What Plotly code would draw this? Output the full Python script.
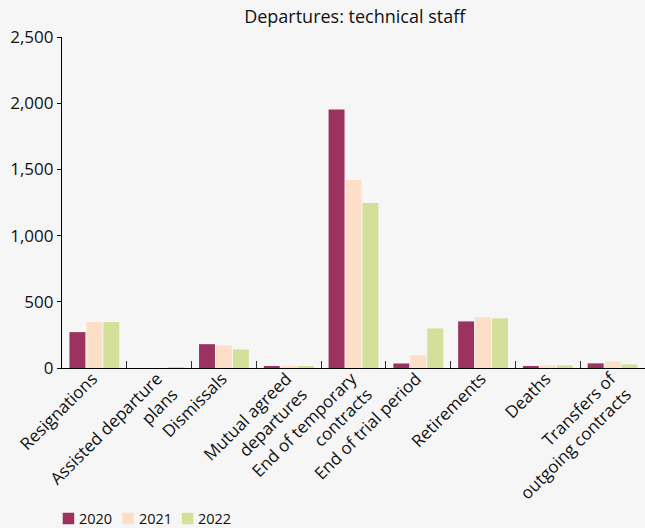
import plotly.graph_objects as go

categories = [
    "Resignations",
    "Assisted departure<br>plans",
    "Dismissals",
    "Mutual agreed<br>departures",
    "End of temporary<br>contracts",
    "End of trial period",
    "Retirements",
    "Deaths",
    "Transfers of<br>outgoing contracts",
]
years = ["2020", "2021", "2022"]
v2020 = [271, 0, 180, 8, 1952, 34, 352, 12, 35]
v2021 = [347, 0, 170, 12, 1420, 95, 383, 20, 50]
v2022 = [347, 5, 140, 12, 1246, 299, 375, 20, 27]
colors = ["#9b3260", "#fddfc7", "#d3e09a"]
y_ticks = [0, 500, 1000, 1500, 2000, 2500]

W, H = 645, 528
ML, MR, MT, MB = 62, 0, 37, 160
PW, PH = W - ML - MR, H - MT - MB

fig = go.Figure()
for name, vals, c in zip(years, [v2020, v2021, v2022], colors):
    fig.add_trace(go.Bar(x=categories, y=vals, name=name, marker_color=c, marker_line_width=0,
                         showlegend=False))

# custom legend (pixel layout converted to paper coordinates)
def px_x(px):
    return (px - ML) / PW

def px_y(py):
    return (H - MB - py) / PH

leg_x0, leg_step, sq, leg_yc = 62.7, 59.6, 11.5, 518.5
for i, (name, c) in enumerate(zip(years, colors)):
    x0 = leg_x0 + i * leg_step
    fig.add_shape(type="rect", xref="paper", yref="paper",
                  x0=px_x(x0), x1=px_x(x0 + sq), y0=px_y(leg_yc + sq / 2), y1=px_y(leg_yc - sq / 2),
                  fillcolor=c, line_width=0)
    fig.add_annotation(xref="paper", yref="paper", x=px_x(x0 + sq + 3), y=px_y(leg_yc),
                       xanchor="left", yanchor="middle", text=name, showarrow=False,
                       font=dict(size=14.5, color="#111111"))

font = "Open Sans, Noto Sans, sans-serif"
bg = "#f6f6f6"
fig.update_layout(
    width=W, height=H,
    paper_bgcolor=bg, plot_bgcolor=bg,
    font=dict(family=font, size=15, color="#111111"),
    title=dict(text="Departures: technical staff", xref="container", x=0.55, xanchor="center",
               yref="container", y=1 - 17 / 528, yanchor="middle",
               font=dict(size=18, color="#111111")),
    margin=dict(l=ML, r=MR, t=MT, b=MB, autoexpand=False),
    barmode="group", bargap=0.215, bargroupgap=0.06,
    showlegend=False,
)
fig.update_xaxes(
    tickangle=-45, showline=True, linecolor="#000000", linewidth=1.3,
    ticks="inside", tickson="boundaries", ticklen=7, tickcolor="#333333", tickwidth=1,
    showgrid=False, zeroline=False, tickfont=dict(size=17), automargin=False,
    ticklabelstandoff=-7, ticklabelshift=-2,
)
fig.update_yaxes(
    range=[0, 2500], tickvals=y_ticks, tickformat=",", showline=True, linecolor="#000000", linewidth=1.3,
    ticks="outside", ticklen=4, tickcolor="#000000", showgrid=False, zeroline=False,
    tickfont=dict(size=17), automargin=False,
)
fig.write_html("out.html", config={"displayModeBar": False},
               post_script="document.body.style.margin='0';document.body.style.background='%s';" % bg)
